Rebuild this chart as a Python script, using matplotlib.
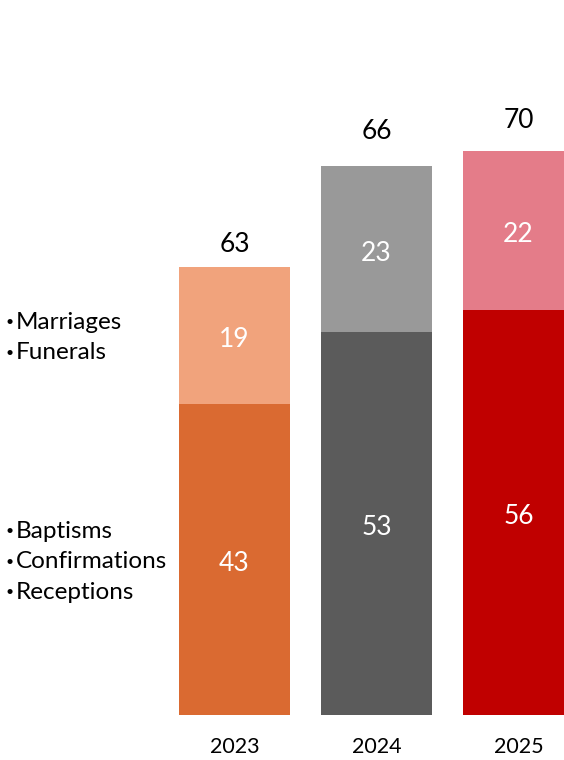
import matplotlib
matplotlib.use("Agg")
import matplotlib.pyplot as plt

# data
years = ["2023", "2024", "2025"]
lower_vals = [43, 53, 56]     # baptisms / confirmations / receptions
upper_vals = [19, 23, 22]     # marriages / funerals
total_labels = ["63", "66", "70"]
lower_names = ["Baptisms", "Confirmations", "Receptions"]
upper_names = ["Marriages", "Funerals"]

lower_colors = ["#DA6A31", "#5B5B5B", "#C00000"]
upper_colors = ["#F1A37C", "#999999", "#E47C89"]
total_gap_px = [10, 22, 18]   # space between bar top and total label

plt.rcParams["font.family"] = ["Lato", "DejaVu Sans"]

W, H, DPI = 564, 760, 100
fig = plt.figure(figsize=(W / DPI, H / DPI), dpi=DPI)
ax = fig.add_axes([0, 0, 1, 1])

# pixel layout: bar spacing 142 px, first bar centred at 234.5 px, baseline at 715 px
px_x, x0 = 142.0, 234.5
px_y, base = 7.23, 715.0
ax.set_xlim(-x0 / px_x, (W - x0) / px_x)
ax.set_ylim(-(H - base) / px_y, base / px_y)
ax.axis("off")

xs = list(range(len(years)))
width = 111 / px_x
ax.bar(xs, lower_vals, width=width, color=lower_colors, linewidth=0)
ax.bar(xs, upper_vals, width=width, bottom=lower_vals, color=upper_colors, linewidth=0)

for x, lo, up, tot, gap in zip(xs, lower_vals, upper_vals, total_labels, total_gap_px):
    ax.text(x, lo / 2 - 0.6, str(lo), ha="center", va="center", color="white", fontsize=19)
    ax.text(x, lo + up / 2 - 0.6, str(up), ha="center", va="center", color="white", fontsize=19)
    ax.text(x, lo + up + gap / px_y, tot, ha="center", va="bottom", color="black", fontsize=19)

for x, y in zip(xs, years):
    ax.text(x, -(747 - base) / px_y, y, ha="center", va="center", fontsize=15.5, color="black")

# category notes on the left, aligned with the 2023 segments
bullet_x = -(x0 - 10) / px_x
name_x = -(x0 - 16) / px_x
line_h = 30.5 / px_y


def note_block(names, centre):
    n = len(names)
    for i, name in enumerate(names):
        y = centre + ((n - 1) / 2 - i) * line_h - 0.3
        ax.text(bullet_x, y, "\u2022", ha="center", va="center", fontsize=10)
        ax.text(name_x, y, name, ha="left", va="center", fontsize=17.5)


note_block(upper_names, lower_vals[0] + upper_vals[0] / 2)
note_block(lower_names, lower_vals[0] / 2)

fig.savefig("out.png", dpi=DPI)
plt.close(fig)
